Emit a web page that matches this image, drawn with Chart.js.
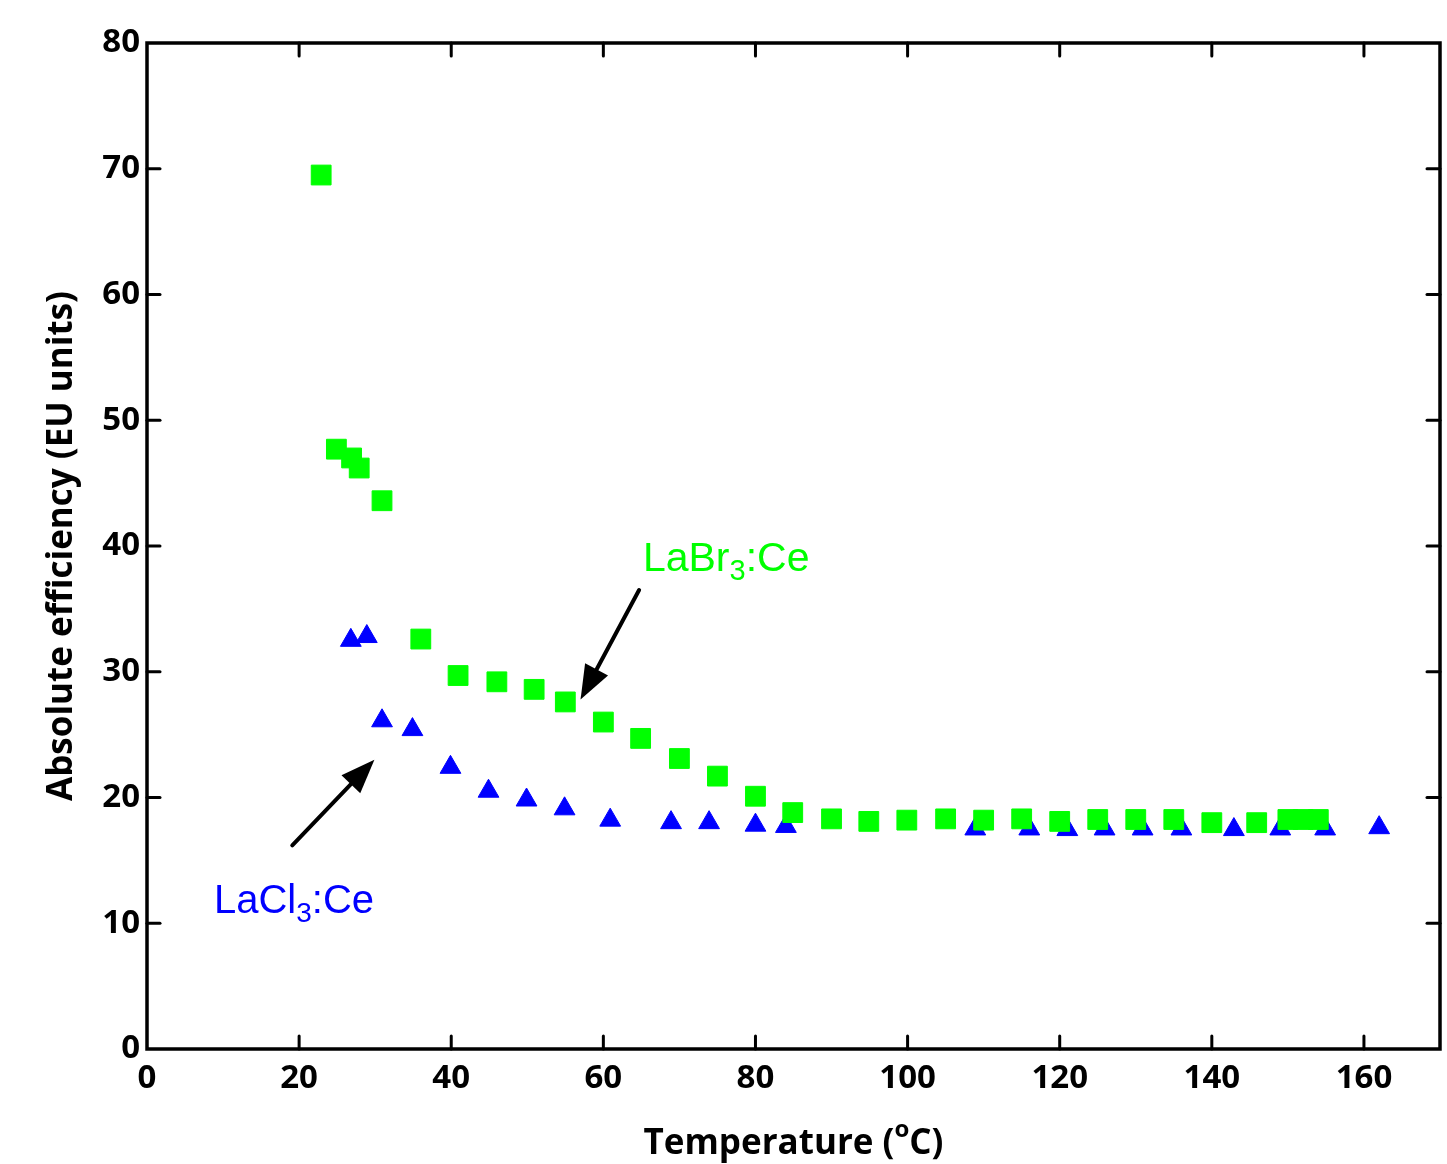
<!DOCTYPE html>
<html>
<head>
<meta charset="utf-8">
<script src="https://cdn.jsdelivr.net/npm/chart.js@4"></script>
<style>
  html, body { margin: 0; padding: 0; background: #ffffff; }
  #wrap { width: 1447px; height: 1164px; position: relative; }
</style>
</head>
<body>
<div id="wrap"><canvas id="c" width="1447" height="1164"></canvas></div>
<script>
// ---- Data ----
const labr3Temp = [22.9, 24.9, 26.9, 27.9, 30.9, 36.0, 40.9, 46.0, 50.9, 55.0, 60.0, 64.9, 70.0, 75.0, 80.0, 84.9, 90.0, 94.9, 99.9, 105.0, 110.0, 115.0, 120.0, 125.0, 130.0, 135.0, 140.0, 145.9, 150.0, 152.0, 154.0];
const labr3Eff  = [69.5, 47.7, 47.0, 46.2, 43.6, 32.6, 29.7, 29.2, 28.6, 27.6, 26.0, 24.7, 23.1, 21.7, 20.1, 18.8, 18.3, 18.1, 18.2, 18.3, 18.2, 18.3, 18.1, 18.25, 18.25, 18.25, 18.0, 18.0, 18.25, 18.25, 18.25];
const lacl3Temp = [26.8, 28.9, 30.9, 34.9, 39.9, 44.9, 49.9, 54.9, 60.9, 68.9, 73.9, 80.0, 84.0, 108.9, 116.0, 121.0, 125.9, 130.9, 136.0, 142.9, 149.0, 154.9, 162.0];
const lacl3Eff  = [32.5, 32.8, 26.1, 25.4, 22.4, 20.5, 19.8, 19.1, 18.2, 18.0, 18.0, 17.8, 17.7, 17.5, 17.5, 17.45, 17.5, 17.5, 17.5, 17.45, 17.5, 17.5, 17.6];
const xTicks = [0, 20, 40, 60, 80, 100, 120, 140, 160];
const yTicks = [0, 10, 20, 30, 40, 50, 60, 70, 80];
const xTitleParts = ["Temperature (", "o", "C)"];
const yTitle = "Absolute efficiency (EU units)";
const labr3Label = ["LaBr", "3", ":Ce"];
const lacl3Label = ["LaCl", "3", ":Ce"];
// annotation anchors in data units: [tailX, tailY, tipX, tipY]
const labr3Arrow = [64.7, 36.5, 57.0, 27.8];
const lacl3Arrow = [19.1, 16.2, 29.9, 23.0];
const labr3LabelPos = [65.2, 38.0];   // left, baseline (data units)
const lacl3LabelPos = [8.8, 10.8];

const GREEN = '#00ff00';
const BLUE = '#0000ff';
const AXFONT = "'Open Sans', 'DejaVu Sans', sans-serif";

const toPts = (xs, ys) => xs.map((x, i) => ({ x: x, y: ys[i] }));

// Frame + inward ticks (mirrored on all four sides)
const framePlugin = {
  id: 'frame',
  afterDatasetsDraw(chart) {
    const { ctx, chartArea: a, scales: { x, y } } = chart;
    ctx.save();
    ctx.strokeStyle = '#000';
    ctx.lineCap = 'round';
    ctx.lineWidth = 3;
    const tl = 13;
    xTicks.forEach(v => {
      const px = x.getPixelForValue(v);
      if (px <= a.left + 1 || px >= a.right - 1) return;
      ctx.beginPath(); ctx.moveTo(px, a.bottom); ctx.lineTo(px, a.bottom - tl); ctx.stroke();
      ctx.beginPath(); ctx.moveTo(px, a.top); ctx.lineTo(px, a.top + tl); ctx.stroke();
    });
    yTicks.forEach(v => {
      const py = y.getPixelForValue(v);
      if (py <= a.top + 1 || py >= a.bottom - 1) return;
      ctx.beginPath(); ctx.moveTo(a.left, py); ctx.lineTo(a.left + tl, py); ctx.stroke();
      ctx.beginPath(); ctx.moveTo(a.right, py); ctx.lineTo(a.right - tl, py); ctx.stroke();
    });
    ctx.lineCap = 'square';
    ctx.lineWidth = 3.5;
    ctx.strokeRect(a.left, a.top, a.right - a.left, a.bottom - a.top);
    ctx.restore();
  }
};

function drawArrow(ctx, x0, y0, x1, y1, color) {
  const ang = Math.atan2(y1 - y0, x1 - x0);
  const hl = 34, hw = 13;
  const bx = x1 - hl * Math.cos(ang), by = y1 - hl * Math.sin(ang);
  ctx.save();
  ctx.strokeStyle = color; ctx.fillStyle = color;
  ctx.lineWidth = 4; ctx.lineCap = 'round';
  ctx.beginPath(); ctx.moveTo(x0, y0); ctx.lineTo(bx + 6 * Math.cos(ang), by + 6 * Math.sin(ang)); ctx.stroke();
  ctx.beginPath();
  ctx.moveTo(x1, y1);
  ctx.lineTo(bx + hw * Math.sin(ang), by - hw * Math.cos(ang));
  ctx.lineTo(bx - hw * Math.sin(ang), by + hw * Math.cos(ang));
  ctx.closePath(); ctx.fill();
  ctx.restore();
}

function drawSubText(ctx, parts, x, y, color, size) {
  ctx.save();
  ctx.fillStyle = color;
  ctx.textBaseline = 'alphabetic';
  ctx.textAlign = 'left';
  const big = size + "px 'Liberation Sans', Arial, sans-serif";
  const small = Math.round(size * 0.7) + "px 'Liberation Sans', Arial, sans-serif";
  ctx.font = big;
  ctx.fillText(parts[0], x, y);
  let cx = x + ctx.measureText(parts[0]).width;
  ctx.font = small;
  ctx.fillText(parts[1], cx, y + 9);
  cx += ctx.measureText(parts[1]).width;
  ctx.font = big;
  ctx.fillText(parts[2], cx, y);
  ctx.restore();
}

const annotPlugin = {
  id: 'annot',
  afterDraw(chart) {
    const { ctx, chartArea: a, scales: { x, y } } = chart;
    const P = (dx, dy) => [x.getPixelForValue(dx), y.getPixelForValue(dy)];
    let t = P(labr3Arrow[0], labr3Arrow[1]), h = P(labr3Arrow[2], labr3Arrow[3]);
    drawArrow(ctx, t[0], t[1], h[0], h[1], '#000');
    t = P(lacl3Arrow[0], lacl3Arrow[1]); h = P(lacl3Arrow[2], lacl3Arrow[3]);
    drawArrow(ctx, t[0], t[1], h[0], h[1], '#000');
    let p = P(labr3LabelPos[0], labr3LabelPos[1]);
    drawSubText(ctx, labr3Label, p[0], p[1], GREEN, 41);
    p = P(lacl3LabelPos[0], lacl3LabelPos[1]);
    drawSubText(ctx, lacl3Label, p[0], p[1], BLUE, 40);

    // axis titles
    ctx.save();
    ctx.fillStyle = '#000';
    const TF = "bold 35px " + AXFONT, SF = "bold 24px " + AXFONT;
    ctx.textBaseline = 'alphabetic';
    ctx.textAlign = 'left';
    ctx.font = TF;
    const w0 = ctx.measureText(xTitleParts[0]).width;
    ctx.font = SF;
    const w1 = ctx.measureText(xTitleParts[1]).width;
    ctx.font = TF;
    const w2 = ctx.measureText(xTitleParts[2]).width;
    const cx = (a.left + a.right) / 2;
    let sx = cx - (w0 + w1 + w2) / 2;
    const base = 1154;
    ctx.fillText(xTitleParts[0], sx, base);
    ctx.font = SF;
    ctx.fillText(xTitleParts[1], sx + w0, base - 17);
    ctx.font = TF;
    ctx.fillText(xTitleParts[2], sx + w0 + w1, base);

    ctx.translate(62, (a.top + a.bottom) / 2);
    ctx.rotate(-Math.PI / 2);
    ctx.textAlign = 'center';
    ctx.textBaseline = 'middle';
    ctx.font = TF;
    ctx.fillText(yTitle, 0, 0);
    ctx.restore();
  }
};

new Chart(document.getElementById('c'), {
  type: 'scatter',
  data: {
    datasets: [
      {
        label: 'LaBr3:Ce',
        data: toPts(labr3Temp, labr3Eff),
        pointStyle: 'rect',
        pointRadius: 14,
        pointBorderWidth: 1,
        backgroundColor: GREEN,
        borderColor: GREEN,
        order: 0
      },
      {
        label: 'LaCl3:Ce',
        data: toPts(lacl3Temp, lacl3Eff),
        pointStyle: 'triangle',
        pointRadius: 12,
        pointBorderWidth: 1,
        backgroundColor: BLUE,
        borderColor: BLUE,
        order: 1
      }
    ]
  },
  options: {
    responsive: false,
    animation: false,
    events: [],
    layout: { padding: { top: 43, right: 7, left: 0, bottom: 0 }, autoPadding: false },
    plugins: { legend: { display: false }, tooltip: { enabled: false } },
    scales: {
      x: {
        type: 'linear',
        min: 0, max: 170,
        afterBuildTicks: s => { s.ticks = xTicks.map(v => ({ value: v })); },
        afterFit: s => { s.height = 115; },
        grid: { display: false, drawTicks: false },
        border: { display: false },
        ticks: { color: '#000', padding: 10, maxRotation: 0, autoSkip: false,
                 font: { family: AXFONT, size: 33, weight: 'bold' } }
      },
      y: {
        type: 'linear',
        min: 0, max: 80,
        afterBuildTicks: s => { s.ticks = yTicks.map(v => ({ value: v })); },
        afterFit: s => { s.width = 147; },
        grid: { display: false, drawTicks: false },
        border: { display: false },
        ticks: { color: '#000', padding: 7, autoSkip: false,
                 font: { family: AXFONT, size: 33, weight: 'bold' } }
      }
    }
  },
  plugins: [framePlugin, annotPlugin]
});
</script>
</body>
</html>
